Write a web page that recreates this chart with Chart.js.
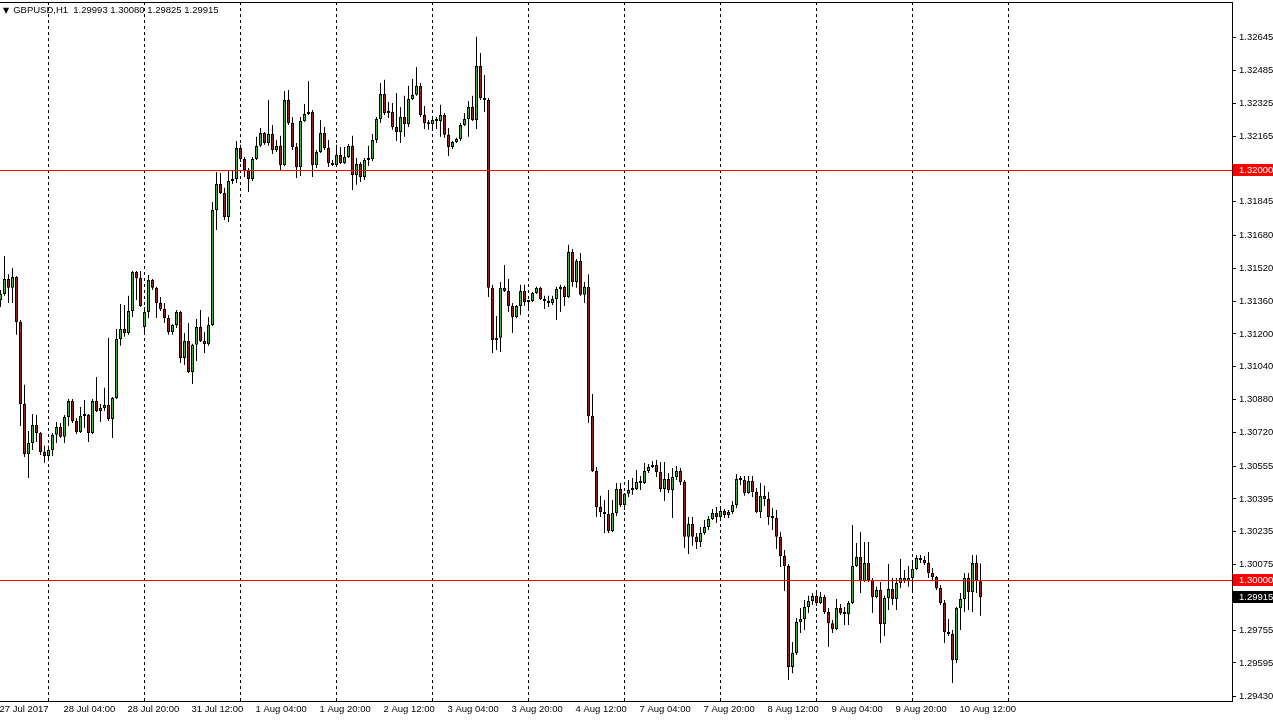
<!DOCTYPE html>
<html lang="en">
<head>
<meta charset="UTF-8">
<title>GBPUSD,H1</title>
<script src="https://cdn.jsdelivr.net/npm/chart.js@4"></script>
<style>
  body { margin: 0; background: #fff; }
  .wrap { position: relative; width: 1273px; height: 720px; }
  #title { position: absolute; left: 3px; top: 4px; font: 9.5px 'Liberation Sans', sans-serif; color: #000; white-space: pre; }
  #title .arrow { font: 8px 'DejaVu Sans', sans-serif; margin-right: 4px; }
</style>
</head>
<body>
<div class="wrap">
  <canvas id="chart" width="1273" height="720"></canvas>
  <div id="title"><span class="arrow">▼</span><span id="quote"></span></div>
</div>
<script>
// hourly bars, 27 Jul 2017 12:00 .. 10 Aug 2017 17:00 (weekend skipped)
const open = [
  1.31366,1.31395,1.31468,1.31425,1.31478,1.31258,1.30858,1.30614,1.30668,1.30756,1.30717,1.30624,
  1.30605,1.30634,1.30708,1.30746,1.30698,1.30795,1.30873,1.30775,1.30722,1.30800,1.30805,1.30717,
  1.30873,1.30824,1.30839,1.30854,1.30785,1.30888,1.31176,1.31224,1.31205,1.31312,1.31502,1.31473,
  1.31234,1.31307,1.31464,1.31425,1.31351,1.31322,1.31278,1.31210,1.31244,1.31307,1.31083,1.31166,
  1.31014,1.31147,1.31234,1.31166,1.31151,1.31244,1.31805,1.31932,1.31888,1.31771,1.31947,1.31956,
  1.32108,1.32054,1.32000,1.31956,1.32054,1.32118,1.32181,1.32132,1.32176,1.32098,1.32118,1.32025,
  1.32342,1.32229,1.32113,1.32015,1.32239,1.32273,1.32283,1.32025,1.32088,1.32181,1.32108,1.32034,
  1.32025,1.32074,1.32034,1.32064,1.32118,1.31976,1.32029,1.31966,1.32049,1.32054,1.32147,1.32249,
  1.32371,1.32278,1.32283,1.32210,1.32186,1.32259,1.32224,1.32347,1.32367,1.32411,1.32269,1.32229,
  1.32224,1.32244,1.32239,1.32269,1.32172,1.32113,1.32137,1.32152,1.32220,1.32249,1.32308,1.32244,
  1.32508,1.32352,1.32342,1.31425,1.31171,1.31181,1.31425,1.31410,1.31337,1.31283,1.31337,1.31410,
  1.31356,1.31361,1.31400,1.31425,1.31371,1.31361,1.31351,1.31371,1.31420,1.31430,1.31381,1.31600,
  1.31454,1.31556,1.31391,1.31430,1.30800,1.30531,1.30356,1.30331,1.30321,1.30239,1.30326,1.30444,
  1.30366,1.30420,1.30439,1.30444,1.30478,1.30473,1.30531,1.30551,1.30561,1.30526,1.30444,1.30492,
  1.30439,1.30502,1.30531,1.30478,1.30210,1.30273,1.30210,1.30185,1.30229,1.30258,1.30297,1.30326,
  1.30307,1.30336,1.30317,1.30331,1.30366,1.30492,1.30488,1.30424,1.30483,1.30429,1.30331,1.30410,
  1.30395,1.30307,1.30302,1.30210,1.30117,1.30068,1.29575,1.29643,1.29794,1.29809,1.29868,1.29897,
  1.29922,1.29887,1.29917,1.29843,1.29789,1.29760,1.29863,1.29838,1.29833,1.29887,1.30068,1.30112,
  1.29995,1.30083,1.30000,1.29917,1.29951,1.29785,1.29912,1.29956,1.29907,1.29985,1.30009,1.29995,
  1.30009,1.30053,1.30107,1.30097,1.30083,1.30034,1.30014,1.29961,1.29887,1.29746,1.29736,1.29609,
  1.29863,1.29907,1.30009,1.29941,1.30083,1.29993
];
const high = [
  1.31415,1.31581,1.31492,1.31522,1.31483,1.31268,1.30952,1.30727,1.30809,1.30805,1.30722,1.30654,
  1.30654,1.30717,1.30770,1.30765,1.30805,1.30883,1.30883,1.30790,1.30844,1.30878,1.30809,1.30883,
  1.30990,1.30858,1.30937,1.31181,1.30893,1.31224,1.31346,1.31342,1.31386,1.31507,1.31507,1.31507,
  1.31332,1.31488,1.31468,1.31430,1.31381,1.31351,1.31293,1.31248,1.31317,1.31312,1.31205,1.31253,
  1.31152,1.31273,1.31317,1.31210,1.31283,1.31844,1.31990,1.31985,1.31913,1.32000,1.31995,1.32142,
  1.32123,1.32064,1.32010,1.32064,1.32162,1.32205,1.32186,1.32342,1.32220,1.32147,1.32167,1.32386,
  1.32391,1.32259,1.32132,1.32259,1.32322,1.32435,1.32293,1.32098,1.32244,1.32210,1.32147,1.32049,
  1.32123,1.32113,1.32113,1.32127,1.32167,1.32059,1.32039,1.32059,1.32118,1.32176,1.32259,1.32425,
  1.32440,1.32332,1.32327,1.32376,1.32308,1.32362,1.32411,1.32444,1.32503,1.32425,1.32313,1.32244,
  1.32249,1.32259,1.32318,1.32278,1.32205,1.32142,1.32157,1.32229,1.32278,1.32337,1.32362,1.32650,
  1.32571,1.32464,1.32352,1.31440,1.31288,1.31454,1.31537,1.31468,1.31351,1.31342,1.31440,1.31440,
  1.31366,1.31405,1.31430,1.31430,1.31386,1.31386,1.31386,1.31430,1.31440,1.31435,1.31635,1.31615,
  1.31566,1.31595,1.31454,1.31492,1.30907,1.30551,1.30410,1.30390,1.30439,1.30390,1.30473,1.30473,
  1.30424,1.30488,1.30497,1.30536,1.30507,1.30570,1.30565,1.30580,1.30585,1.30575,1.30575,1.30521,
  1.30546,1.30556,1.30546,1.30488,1.30307,1.30307,1.30229,1.30258,1.30292,1.30312,1.30346,1.30356,
  1.30356,1.30346,1.30341,1.30385,1.30517,1.30507,1.30507,1.30507,1.30507,1.30449,1.30473,1.30459,
  1.30429,1.30351,1.30341,1.30234,1.30146,1.30078,1.29697,1.29814,1.29863,1.29902,1.29922,1.29936,
  1.29936,1.29941,1.29927,1.29863,1.29804,1.29907,1.29882,1.29868,1.29897,1.30268,1.30180,1.30234,
  1.30185,1.30185,1.30009,1.29966,1.29990,1.29922,1.30078,1.30009,1.30009,1.30102,1.30048,1.30068,
  1.30097,1.30122,1.30122,1.30117,1.30136,1.30058,1.30019,1.29975,1.29902,1.29809,1.29756,1.29868,
  1.29936,1.30034,1.30034,1.30122,1.30122,1.30080
];
const low = [
  1.31332,1.31386,1.31351,1.31351,1.31196,1.30751,1.30600,1.30497,1.30634,1.30673,1.30610,1.30570,
  1.30595,1.30605,1.30668,1.30693,1.30668,1.30751,1.30765,1.30712,1.30717,1.30741,1.30673,1.30712,
  1.30819,1.30770,1.30824,1.30775,1.30693,1.30883,1.31142,1.31186,1.31196,1.31283,1.31366,1.31332,
  1.31196,1.31278,1.31415,1.31278,1.31312,1.31253,1.31196,1.31196,1.31229,1.31058,1.31049,1.31009,
  1.30956,1.31068,1.31161,1.31107,1.31142,1.31239,1.31708,1.31883,1.31756,1.31746,1.31932,1.31937,
  1.32039,1.31966,1.31893,1.31947,1.32049,1.32113,1.32123,1.32118,1.32078,1.32088,1.32000,1.32020,
  1.32220,1.32098,1.31961,1.31971,1.32234,1.32269,1.31966,1.32010,1.32083,1.32098,1.32015,1.32020,
  1.32020,1.32029,1.32029,1.32059,1.31903,1.31928,1.31942,1.31952,1.32020,1.32044,1.32132,1.32229,
  1.32269,1.32254,1.32196,1.32142,1.32132,1.32162,1.32210,1.32342,1.32362,1.32259,1.32200,1.32196,
  1.32200,1.32200,1.32162,1.32157,1.32069,1.32103,1.32132,1.32142,1.32215,1.32162,1.32239,1.32200,
  1.32342,1.32283,1.31381,1.31107,1.31122,1.31112,1.31405,1.31307,1.31205,1.31278,1.31293,1.31337,
  1.31312,1.31356,1.31395,1.31366,1.31322,1.31332,1.31342,1.31268,1.31307,1.31337,1.31376,1.31430,
  1.31425,1.31386,1.31351,1.30765,1.30526,1.30307,1.30307,1.30229,1.30229,1.30234,1.30312,1.30356,
  1.30341,1.30405,1.30415,1.30439,1.30439,1.30468,1.30521,1.30546,1.30502,1.30429,1.30385,1.30424,
  1.30302,1.30488,1.30463,1.30156,1.30126,1.30166,1.30151,1.30161,1.30220,1.30244,1.30292,1.30278,
  1.30302,1.30302,1.30302,1.30321,1.30351,1.30463,1.30410,1.30420,1.30405,1.30326,1.30302,1.30361,
  1.30268,1.30244,1.30151,1.30063,1.29946,1.29512,1.29545,1.29634,1.29741,1.29756,1.29838,1.29878,
  1.29873,1.29882,1.29833,1.29673,1.29741,1.29756,1.29829,1.29780,1.29780,1.29882,1.30063,1.29936,
  1.29990,1.29990,1.29838,1.29912,1.29692,1.29726,1.29853,1.29878,1.29853,1.29961,1.29985,1.29966,
  1.29941,1.30048,1.30083,1.30073,1.30009,1.30000,1.29951,1.29878,1.29692,1.29726,1.29497,1.29594,
  1.29756,1.29843,1.29853,1.29843,1.29936,1.29825
];
const close = [
  1.31395,1.31468,1.31425,1.31478,1.31258,1.30858,1.30614,1.30668,1.30756,1.30717,1.30624,1.30605,
  1.30634,1.30708,1.30746,1.30698,1.30795,1.30873,1.30775,1.30722,1.30800,1.30805,1.30717,1.30873,
  1.30824,1.30839,1.30854,1.30785,1.30888,1.31176,1.31224,1.31205,1.31312,1.31502,1.31473,1.31337,
  1.31307,1.31464,1.31425,1.31351,1.31322,1.31278,1.31210,1.31244,1.31307,1.31083,1.31166,1.31014,
  1.31147,1.31234,1.31166,1.31151,1.31244,1.31805,1.31932,1.31888,1.31771,1.31947,1.31956,1.32108,
  1.32054,1.32000,1.31956,1.32054,1.32118,1.32181,1.32132,1.32176,1.32098,1.32118,1.32025,1.32342,
  1.32229,1.32113,1.32015,1.32239,1.32273,1.32283,1.32025,1.32088,1.32181,1.32108,1.32034,1.32025,
  1.32074,1.32034,1.32064,1.32118,1.31976,1.32029,1.31966,1.32049,1.32054,1.32147,1.32249,1.32371,
  1.32278,1.32283,1.32210,1.32186,1.32259,1.32224,1.32347,1.32367,1.32411,1.32269,1.32229,1.32224,
  1.32244,1.32239,1.32269,1.32172,1.32113,1.32137,1.32152,1.32220,1.32249,1.32308,1.32244,1.32508,
  1.32352,1.32342,1.31425,1.31171,1.31181,1.31425,1.31410,1.31337,1.31283,1.31337,1.31410,1.31356,
  1.31361,1.31400,1.31425,1.31371,1.31361,1.31351,1.31371,1.31420,1.31430,1.31381,1.31600,1.31454,
  1.31556,1.31391,1.31430,1.30800,1.30531,1.30356,1.30331,1.30321,1.30239,1.30326,1.30444,1.30366,
  1.30420,1.30439,1.30444,1.30478,1.30473,1.30531,1.30551,1.30561,1.30526,1.30444,1.30492,1.30439,
  1.30502,1.30531,1.30478,1.30210,1.30273,1.30210,1.30185,1.30229,1.30258,1.30297,1.30326,1.30307,
  1.30336,1.30317,1.30331,1.30366,1.30492,1.30488,1.30424,1.30483,1.30429,1.30331,1.30410,1.30395,
  1.30307,1.30302,1.30210,1.30117,1.30068,1.29575,1.29643,1.29794,1.29809,1.29868,1.29897,1.29922,
  1.29887,1.29917,1.29843,1.29789,1.29760,1.29863,1.29838,1.29833,1.29887,1.30068,1.30112,1.29995,
  1.30083,1.30000,1.29917,1.29951,1.29785,1.29912,1.29956,1.29907,1.29985,1.30009,1.29995,1.30009,
  1.30053,1.30107,1.30097,1.30083,1.30034,1.30014,1.29961,1.29887,1.29746,1.29736,1.29609,1.29863,
  1.29907,1.30009,1.29941,1.30083,1.29993,1.29915
];

// time axis labels, one every 16 bars
const xLabels = ['27 Jul 2017', '28 Jul 04:00', '28 Jul 20:00', '31 Jul 12:00', '1 Aug 04:00', '1 Aug 20:00',
  '2 Aug 12:00', '3 Aug 04:00', '3 Aug 20:00', '4 Aug 12:00', '7 Aug 04:00', '7 Aug 20:00',
  '8 Aug 12:00', '9 Aug 04:00', '9 Aug 20:00', '10 Aug 12:00'];
const xLabelIdx = [0, 16, 32, 48, 64, 80, 96, 112, 128, 144, 160, 176, 192, 208, 224, 240];
// first bar of each day (period separators)
const dayStarts = [12, 36, 60, 84, 108, 132, 156, 180, 204, 228, 252];
// price scale
const yTicks = [1.32645, 1.32485, 1.32325, 1.32165, 1.31845, 1.31680, 1.31520, 1.31360, 1.31200,
  1.31040, 1.30880, 1.30720, 1.30555, 1.30395, 1.30235, 1.30075, 1.29755, 1.29595, 1.29430];
const levels = [1.32000, 1.30000];
const symbol = 'GBPUSD,H1';

const bull = '#00e000';
const bear = '#e00000';

const last = open.length - 1;
document.getElementById('quote').textContent = symbol + '  ' +
  [open[last], high[last], low[last], close[last]].map(v => v.toFixed(5)).join(' ');

Chart.defaults.font.family = "'Liberation Sans', sans-serif";
Chart.defaults.font.size = 9.5;
Chart.defaults.color = '#000';

const mt4 = {
  id: 'mt4',
  beforeDatasetsDraw(chart) {
    const { ctx, chartArea: a, scales: { x } } = chart;
    ctx.save();
    ctx.strokeStyle = '#000';
    ctx.lineWidth = 1;
    ctx.setLineDash([3, 3]);
    dayStarts.forEach(d => {
      const px = x.getPixelForValue(d);
      ctx.beginPath();
      ctx.moveTo(px, a.top);
      ctx.lineTo(px, a.bottom);
      ctx.stroke();
    });
    ctx.restore();
  },
  afterDatasetsDraw(chart) {
    const { ctx, chartArea: a, scales: { y } } = chart;
    ctx.save();
    ctx.fillStyle = '#ff0000';
    levels.forEach(v => {
      const py = Math.round(y.getPixelForValue(v));
      ctx.fillRect(a.left, py, a.right - a.left, 1);
    });
    ctx.restore();
  },
  afterDraw(chart) {
    const { ctx, chartArea: a, scales: { y } } = chart;
    ctx.save();
    // frame
    ctx.fillStyle = '#000';
    ctx.fillRect(a.left, a.top, a.right - a.left + 1, 1);
    ctx.fillRect(a.left, a.bottom, a.right - a.left + 1, 1);
    ctx.fillRect(a.right, a.top, 1, a.bottom - a.top);
    // price labels on the scale
    ctx.font = "9.5px 'Liberation Sans', sans-serif";
    ctx.textBaseline = 'middle';
    ctx.textAlign = 'left';
    const tag = (v, bg) => {
      const py = Math.round(y.getPixelForValue(v));
      ctx.fillStyle = bg;
      ctx.fillRect(a.right + 1, py - 6, 41, 12);
      ctx.fillStyle = '#fff';
      ctx.fillText(v.toFixed(5), a.right + 7, py + 0.5);
    };
    levels.forEach(v => tag(v, '#ff0000'));
    tag(close[last], '#000');
    ctx.restore();
  }
};

new Chart(document.getElementById('chart'), {
  type: 'bar',
  data: {
    datasets: [
      {
        label: 'range',
        data: low.map((l, i) => ({ x: i, y: [l, high[i]] })),
        backgroundColor: '#000',
        borderWidth: 0,
        barThickness: 1,
        minBarLength: 1,
        inflateAmount: 0,
        grouped: false,
        order: 2
      },
      {
        label: 'body',
        data: open.map((o, i) => ({ x: i, y: [o, close[i]] })),
        backgroundColor: open.map((o, i) => close[i] >= o ? bull : bear),
        borderColor: '#000',
        borderWidth: 1,
        borderSkipped: false,
        barThickness: 3,
        minBarLength: 2,
        inflateAmount: 0,
        grouped: false,
        order: 1
      }
    ]
  },
  options: {
    responsive: false,
    animation: false,
    layout: { padding: { top: 2, left: 0, right: 0, bottom: 0 } },
    plugins: { legend: { display: false }, tooltip: { enabled: false } },
    scales: {
      x: {
        type: 'linear',
        offset: false,
        min: -0.125,
        max: 307.875,
        grid: { display: false, drawTicks: false },
        border: { display: false },
        afterBuildTicks: s => { s.ticks = xLabelIdx.map(v => ({ value: v })); },
        afterFit: s => { s.height = 19; s.paddingLeft = 0; s.paddingRight = 0; },
        ticks: {
          autoSkip: false,
          maxRotation: 0,
          align: 'start',
          labelOffset: -1,
          padding: 3,
          callback: (v, i) => xLabels[i]
        }
      },
      y: {
        position: 'right',
        min: 1.29409,
        max: 1.32820,
        afterBuildTicks: s => { s.ticks = yTicks.map(v => ({ value: v })); },
        afterFit: s => { s.width = 41; s.paddingTop = 0; s.paddingBottom = 0; },
        grid: { drawOnChartArea: false, color: '#000', tickLength: 4 },
        border: { display: true, color: '#000' },
        ticks: { padding: 3, callback: v => v.toFixed(5) }
      }
    }
  },
  plugins: [mt4]
});
</script>
</body>
</html>
